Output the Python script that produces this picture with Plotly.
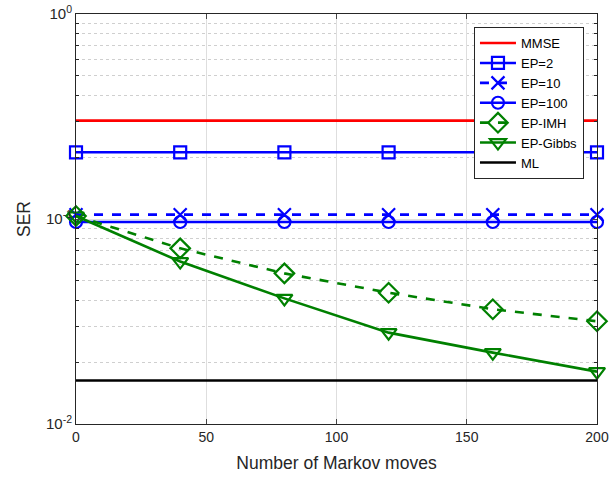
import plotly.graph_objects as go

moves = [0, 40, 80, 120, 160, 200]
ser_mmse = [0.302] * 6
ser_ep2 = [0.2115] * 6
ser_ep10 = [0.105] * 6
ser_ep100 = [0.0967] * 6
ser_imh = [0.1034, 0.0719, 0.0543, 0.0437, 0.0363, 0.0317]
ser_gibbs = [0.1034, 0.062, 0.041, 0.0279, 0.0223, 0.018]
ser_ml = [0.0163] * 6

ytick_vals = [0.01, 0.1, 1]
ytick_text = ["10<sup>-2</sup>", "10<sup>-1</sup>", "10<sup>0</sup>"]
xtick_vals = [0, 50, 100, 150, 200]

fig = go.Figure()
LW = 2.6

def add(name, y, color, dash, symbol, size):
    fig.add_trace(go.Scatter(
        x=moves, y=y, name=name,
        mode="lines+markers" if symbol else "lines",
        line=dict(color=color, width=LW, dash=dash),
        marker=dict(symbol=symbol or "circle", size=size, color=color,
                    line=dict(color=color, width=2.2)),
        cliponaxis=False,
    ))

add("MMSE", ser_mmse, "#ff0000", "solid", None, 0)
add("EP=2", ser_ep2, "#0000ff", "solid", "square-open", 12)
add("EP=10", ser_ep10, "#0000ff", "dash", "x-thin-open", 13)
add("EP=100", ser_ep100, "#0000ff", "solid", "circle-open", 12)
add("EP-IMH", ser_imh, "#008000", "dash", "diamond-open", 15)
add("EP-Gibbs", ser_gibbs, "#008000", "solid", "triangle-down-open", 14)
add("ML", ser_ml, "#000000", "solid", None, 0)

font = "Liberation Sans, Arial, Helvetica, sans-serif"
fig.update_layout(
    width=610, height=477,
    margin=dict(l=76, r=13, t=14, b=53),
    paper_bgcolor="white", plot_bgcolor="white",
    font=dict(family=font, size=14, color="#262626"),
    showlegend=True,
    legend=dict(
        x=0.975, y=0.968, xanchor="right", yanchor="top",
        bgcolor="white", bordercolor="#262626", borderwidth=1,
        font=dict(size=13, color="#000000"),
        tracegroupgap=0, itemwidth=36,
    ),
    xaxis=dict(
        range=[0, 200], tickvals=xtick_vals, ticks="inside", ticklen=5,
        showline=True, linecolor="#262626", linewidth=1, mirror="ticks",
        showgrid=True, gridcolor="#dedede", gridwidth=1, zeroline=False,
        title=dict(text="Number of Markov moves", font=dict(size=17.5), standoff=12),
        tickfont=dict(size=14), automargin=False,
    ),
    yaxis=dict(
        type="log", range=[-2, 0], tickvals=ytick_vals, ticktext=ytick_text,
        ticks="inside", ticklen=5,
        showline=True, linecolor="#262626", linewidth=1, mirror="ticks",
        showgrid=True, gridcolor="#dedede", gridwidth=1, zeroline=False,
        minor=dict(dtick="D1", ticks="inside", ticklen=3, showgrid=True,
                   gridcolor="#cfcfcf", griddash="dot", tickcolor="#262626"),
        title=dict(text="SER", font=dict(size=17.5), standoff=10),
        tickfont=dict(size=15), automargin=False,
    ),
)

fig.write_html("out.html")
